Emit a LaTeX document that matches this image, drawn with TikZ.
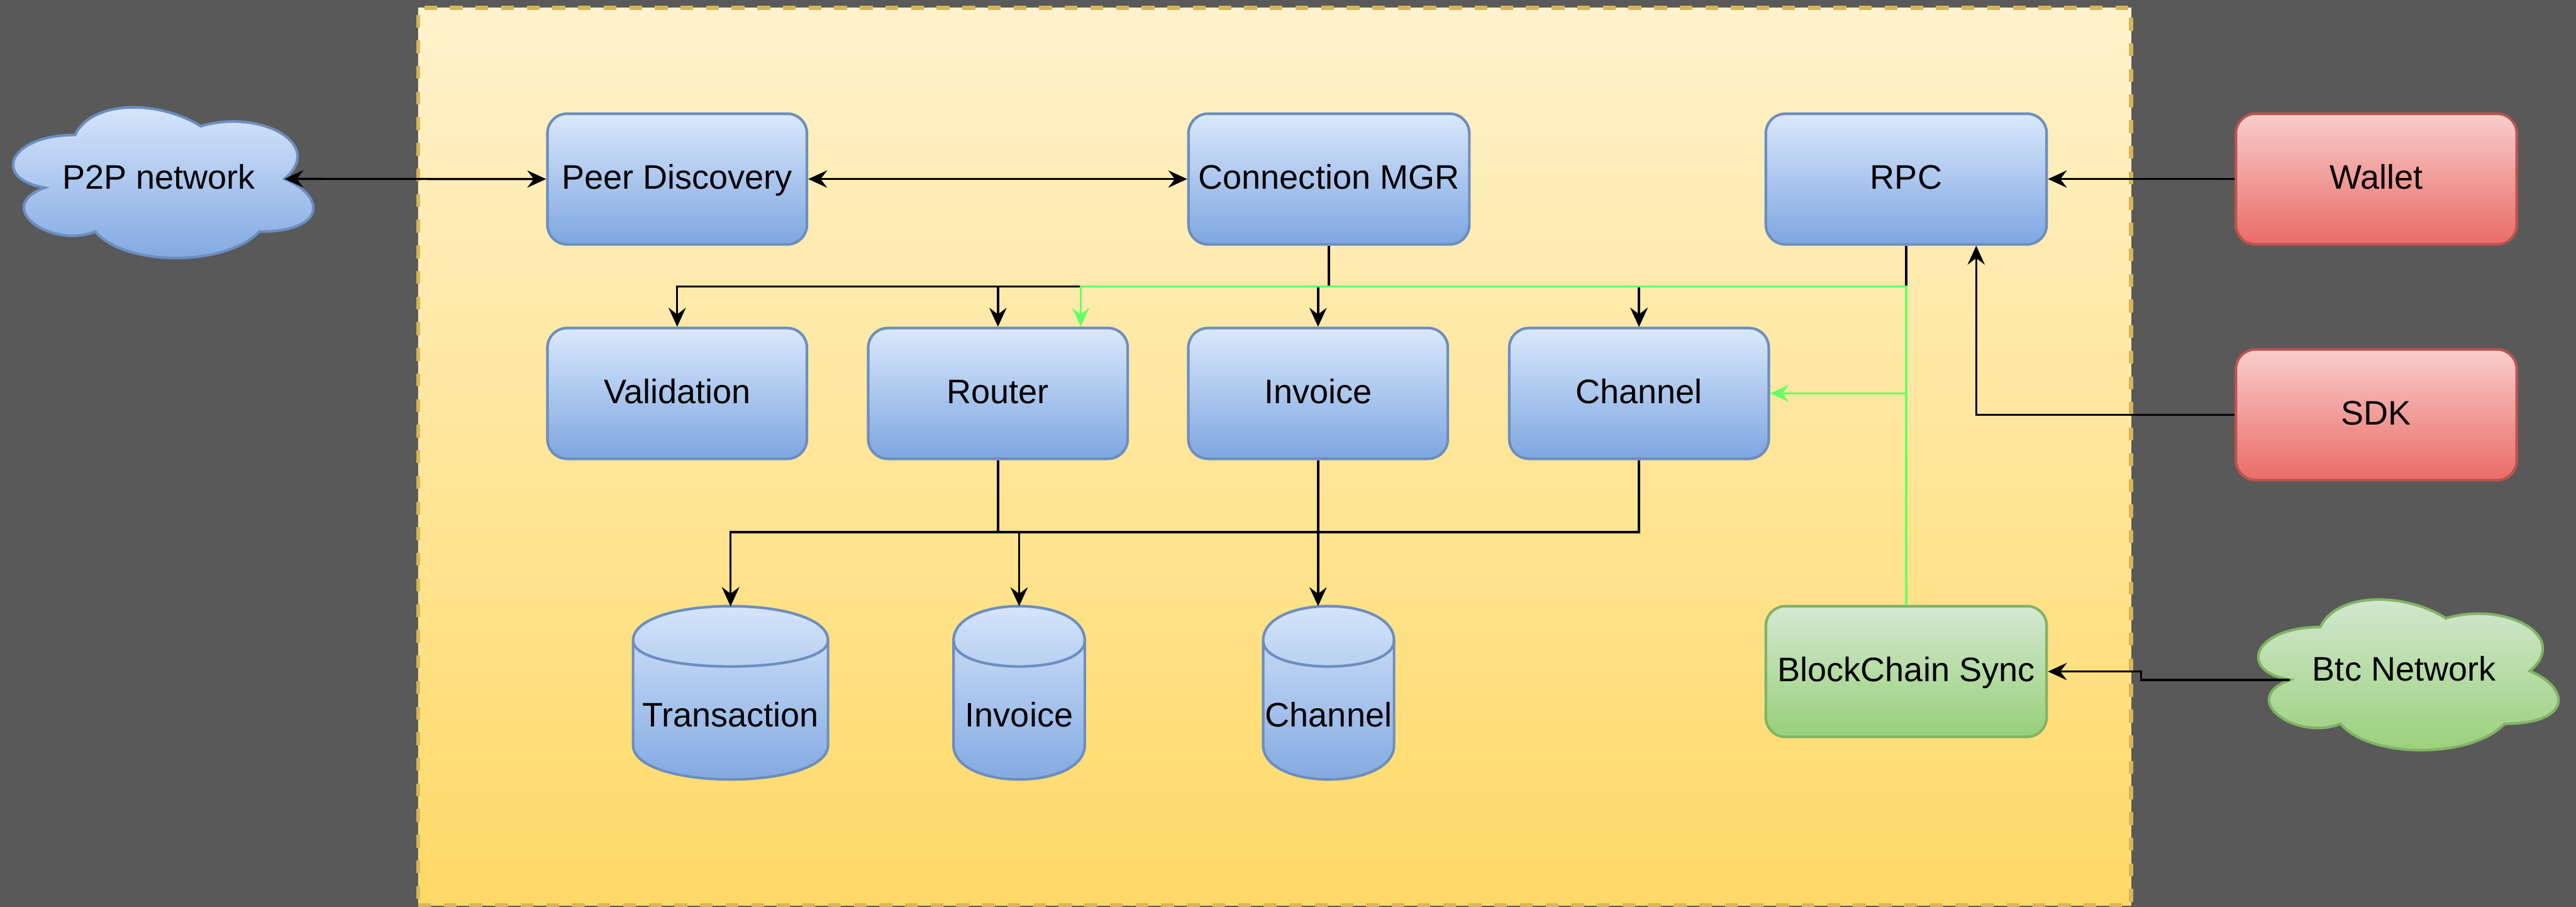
\documentclass[tikz,border=0pt]{standalone}
\usepackage{fontspec}
\setmainfont{Liberation Sans}
\usetikzlibrary{arrows.meta,calc}

\definecolor{bgdark}{RGB}{89,89,89}
\definecolor{zoneTop}{HTML}{FFF2CC}
\definecolor{zoneBot}{HTML}{FFD966}
\definecolor{zoneLine}{HTML}{D6B656}
\definecolor{blueTop}{HTML}{DAE8FC}
\definecolor{blueBot}{HTML}{7EA6E0}
\definecolor{blueLine}{HTML}{6C8EBF}
\definecolor{redTop}{HTML}{F8CECC}
\definecolor{redBot}{HTML}{EA6B66}
\definecolor{redLine}{HTML}{B85450}
\definecolor{greenTop}{HTML}{D5E8D4}
\definecolor{greenBot}{HTML}{97D077}
\definecolor{greenLine}{HTML}{82B366}
\definecolor{syncEdge}{RGB}{102,255,102}

\tikzset{
  lbl/.style={font=\fontsize{20.7}{24.8}\selectfont, text height=15pt, text depth=3pt, inner sep=0pt},
  zone/.style={rectangle, inner sep=0pt, minimum width=1043pt, minimum height=546.3pt,
    top color=zoneTop, bottom color=zoneBot, draw=zoneLine, line width=2.6pt,
    dash pattern=on 7.8pt off 7.8pt},
  box/.style={lbl, rectangle, rounded corners=12pt, line width=1.6pt, minimum height=79.6pt},
  narrow/.style={minimum width=158pt},
  wide/.style={minimum width=171pt},
  bluebox/.style={box, draw=blueLine, top color=blueTop, bottom color=blueBot},
  redbox/.style={box, draw=redLine, top color=redTop, bottom color=redBot},
  greenbox/.style={box, draw=greenLine, top color=greenTop, bottom color=greenBot},
  bluefill/.style={draw=blueLine, line width=1.6pt, top color=blueTop, bottom color=blueBot},
  greenfill/.style={draw=greenLine, line width=1.6pt, top color=greenTop, bottom color=greenBot},
  dbframe/.style={rectangle, inner sep=0pt, outer sep=0pt, minimum height=105.5pt},
  dbrim/.style={draw=blueLine, line width=1.6pt},
  tip/.style={Stealth[length=11.5pt,width=10.5pt,inset=4pt]},
  link/.style={line width=1.3pt, -{Stealth[length=11.5pt,width=10.5pt,inset=4pt]}},
  biLink/.style={line width=1.3pt, {Stealth[length=11.5pt,width=10.5pt,inset=4pt]}-{Stealth[length=11.5pt,width=10.5pt,inset=4pt]}},
  syncLink/.style={link, draw=syncEdge},
}

% cloud outline, unit square scaled to the cloud's frame
\newcommand\netcloud[5]{% name, left, top, fill style, text
  \begin{scope}[shift={(#2,#3)}, x=204pt, y=-107pt]
    \path[#4] (0.25,0.25) .. controls (0.05,0.25) and (0,0.5) .. (0.16,0.55)
      .. controls (0,0.66) and (0.18,0.9) .. (0.31,0.8)
      .. controls (0.4,1) and (0.7,1) .. (0.8,0.8)
      .. controls (1,0.8) and (1,0.6) .. (0.875,0.5)
      .. controls (1,0.3) and (0.8,0.1) .. (0.625,0.2)
      .. controls (0.5,0.05) and (0.3,0.05) .. (0.25,0.25) -- cycle;
    \node[lbl] (#1) at (0.5,0.5) {#5};
    \coordinate (#1-e) at (0.875,0.5);
    \coordinate (#1-w) at (0.16,0.55);
  \end{scope}
}

% database cylinder: name, centre x, width, text
\newcommand\dbstore[4]{%
  \node[dbframe, minimum width=#3pt] (#1) at (#2,421.75) {};
  \path[bluefill] ($(#1.north west)+(0,21)$)
      .. controls ($(#1.north west)+(0,-7)$) and ($(#1.north east)+(0,-7)$) .. ($(#1.north east)+(0,21)$)
      -- ($(#1.south east)+(0,-21)$)
      .. controls ($(#1.south east)+(0,7)$) and ($(#1.south west)+(0,7)$) .. ($(#1.south west)+(0,-21)$)
      -- cycle;
  \draw[dbrim] ($(#1.north west)+(0,21)$)
      .. controls ($(#1.north west)+(0,42)$) and ($(#1.north east)+(0,42)$) .. ($(#1.north east)+(0,21)$);
  \node[lbl] (#1-text) at (#2,436.5) {#4};
}

\begin{document}
\begin{tikzpicture}[x=1pt,y=-1pt]
\useasboundingbox (0,0) rectangle (1568.4,552);
\fill[bgdark] (0,0) rectangle (1568.4,552);

% node zone
\node[zone] (core) at (776.1,278.05) {};

% outside actors
\netcloud{p2p}{-5.3}{55.4}{bluefill}{P2P network}
\netcloud{btc}{1361.7}{355}{greenfill}{Btc Network}
\node[redbox, wide] (wallet) at (1446.8,109) {Wallet};
\node[redbox, wide] (sdk) at (1446.8,252.5) {SDK};

% services
\node[bluebox, narrow] (pd) at (412.3,109) {Peer Discovery};
\node[bluebox, wide] (cm) at (809.1,109) {Connection MGR};
\node[bluebox, wide] (rpc) at (1160.6,109) {RPC};
\node[bluebox, narrow] (val) at (412.3,239.5) {Validation};
\node[bluebox, narrow] (router) at (607.6,239.5) {Router};
\node[bluebox, narrow] (invbox) at (802.5,239.5) {Invoice};
\node[bluebox, narrow] (chanbox) at (997.9,239.5) {Channel};
\node[greenbox, wide] (bcs) at (1160.6,408.8) {BlockChain Sync};

% storage
\dbstore{txdb}{444.8}{118.7}{Transaction}
\dbstore{invdb}{620.5}{79.9}{Invoice}
\dbstore{chandb}{808.9}{79.7}{Channel}

% bus levels
\coordinate (busTop) at (0,174.3);
\coordinate (busLow) at (0,324);

% peer links
\draw[biLink] (p2p-e) -- (pd.west);
\draw[biLink] (pd.east) -- (cm.west);

% connection manager fan-out
\draw[link] (cm.south) -- (cm.south |- busTop) -| (val.north);
\draw[link] (cm.south) -- (cm.south |- busTop) -| (router.north);
\draw[link] (cm.south) -- (cm.south |- busTop) -| (invbox.north);
\draw[link] (cm.south) -- (cm.south |- busTop) -| (chanbox.north);
\draw[link] (rpc.south) -- (rpc.south |- busTop) -| (chanbox.north);

% clients
\draw[link] (wallet.west) -- (rpc.east);
\draw[link] (sdk.west) -| ($(rpc.south)+(42.6,0)$);

% persistence
\draw[link] (router.south) -- (router.south |- busLow) -| (txdb.north);
\draw[link] (router.south) -- (router.south |- busLow) -| (invdb.north);
\draw[link] (chanbox.south) -- (chanbox.south |- busLow) -| (txdb.north);
\draw[link] (invbox.south) -- (invbox.south |- chandb.north);

% chain sync
\draw[link] (btc-w) -- ++(-90.7,0) |- (bcs.east);
\draw[syncLink] (bcs.north) -- (bcs.north |- busTop) -| ($(router.north)+(50.4,0)$);
\draw[syncLink] (bcs.north) |- (chanbox.east);
\end{tikzpicture}
\end{document}
